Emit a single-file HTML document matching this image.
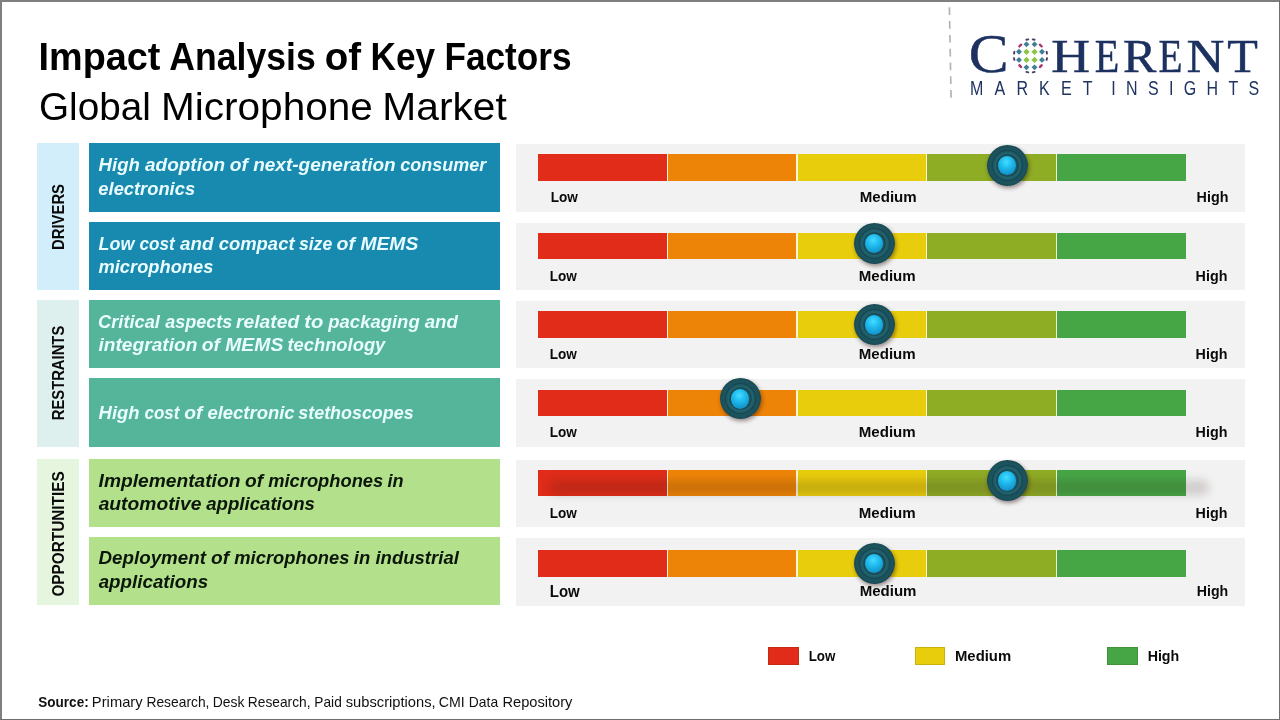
<!DOCTYPE html>
<html lang="en"><head><meta charset="utf-8"><title>Impact Analysis of Key Factors - Global Microphone Market</title>
<style>
html,body{margin:0;padding:0;background:#fff}
#page{position:relative;width:1280px;height:720px;overflow:hidden;background:#fff;font-family:"Liberation Sans",sans-serif}
.ln{margin:0;padding:0;font-size:16px;font-weight:400;line-height:1}
.tx{position:absolute;white-space:nowrap;line-height:1;transform-origin:0 50%;font-family:"Liberation Sans",sans-serif;font-weight:400;font-style:normal}
.h1{font-weight:700;color:#000}
.h2{color:#000}
.rl{font-weight:700;font-style:italic;color:#e9fcff}
.rd{font-weight:700;font-style:italic;color:#0b160b}
.lb{font-weight:700;color:#0a0a0a}
.sr{color:#111}
.lg{font-family:"Liberation Serif",serif;color:#1c3160;-webkit-text-stroke:.45px #1c3160}
.lm{color:#1f3361;transform:scaleX(.82)}
.ct{position:absolute;white-space:nowrap;line-height:1;font-size:16.6px;font-weight:700;color:#0a0a0a}
.bx{position:absolute}
.seg{position:absolute;top:0;height:100%}
.knob{position:absolute;width:41px;height:41px;margin:-20.5px 0 0 -20.5px;border-radius:50%;
 background:radial-gradient(circle closest-side at 50% 50%,#1f5a64 0,#1d5660 46%,#17464f 52%,#226470 58%,#1e5a65 68%,#164550 73%,#1c545e 79%,#1b515b 92%,#17464f 100%);
 box-shadow:1px 2px 4px rgba(40,0,0,.45)}
.knob i{position:absolute;left:50%;top:50%;width:18px;height:19.5px;margin:-9.5px 0 0 -9.2px;border-radius:50%;
 background:radial-gradient(circle at 46% 32%,#45dcff 0,#22bff1 32%,#159cd3 68%,#0e78ab 100%)}
</style></head><body><div id="page">
<div class="bx" style="left:0;top:0;width:1280px;height:2px;background:#7f7f7f"></div>
<div class="bx" style="left:0;top:0;width:2px;height:720px;background:#7f7f7f"></div>
<div class="bx" style="left:1279px;top:0;width:1px;height:720px;background:#6e6e6e"></div>
<div class="bx" style="left:0;top:719px;width:1280px;height:1px;background:#6e6e6e"></div>
<div class="bx" style="left:37px;top:143px;width:42px;height:147px;background:#d2eefa"></div>
<div class="bx" style="left:37px;top:300px;width:42px;height:147px;background:#ddf0ee"></div>
<div class="bx" style="left:37px;top:459px;width:42px;height:146px;background:#e6f6de"></div>
<div class="bx" style="left:89px;top:143px;width:411px;height:68.8px;background:#198aaf"></div>
<div class="bx" style="left:89px;top:222px;width:411px;height:67.8px;background:#198aaf"></div>
<div class="bx" style="left:89px;top:300px;width:411px;height:68px;background:#55b59b"></div>
<div class="bx" style="left:89px;top:378px;width:411px;height:69px;background:#55b59b"></div>
<div class="bx" style="left:89px;top:459px;width:411px;height:68px;background:#b3e08a"></div>
<div class="bx" style="left:89px;top:537px;width:411px;height:68px;background:#b3e08a"></div>
<div class="bx" style="left:516px;top:144.2px;width:729px;height:67.4px;background:#f2f2f2"></div>
<div class="bx" style="left:538px;top:154px;width:648.2px;height:26.7px;background:#fbf6d6">
<div class="seg" style="left:0px;width:128.75px;background:#e02c19"></div>
<div class="seg" style="left:130px;width:127.75px;background:#ee8407"></div>
<div class="seg" style="left:260px;width:127.75px;background:#e8cd0d"></div>
<div class="seg" style="left:389px;width:129.2px;background:#8fac25"></div>
<div class="seg" style="left:519.3px;width:128.9px;background:#46a646"></div>
</div>
<div class="bx" style="left:516px;top:223.1px;width:729px;height:66.9px;background:#f2f2f2"></div>
<div class="bx" style="left:538px;top:232.8px;width:648.2px;height:26.0px;background:#fbf6d6">
<div class="seg" style="left:0px;width:128.75px;background:#e02c19"></div>
<div class="seg" style="left:130px;width:127.75px;background:#ee8407"></div>
<div class="seg" style="left:260px;width:127.75px;background:#e8cd0d"></div>
<div class="seg" style="left:389px;width:129.2px;background:#8fac25"></div>
<div class="seg" style="left:519.3px;width:128.9px;background:#46a646"></div>
</div>
<div class="bx" style="left:516px;top:300.8px;width:729px;height:67.6px;background:#f2f2f2"></div>
<div class="bx" style="left:538px;top:311px;width:648.2px;height:26.8px;background:#fbf6d6">
<div class="seg" style="left:0px;width:128.75px;background:#e02c19"></div>
<div class="seg" style="left:130px;width:127.75px;background:#ee8407"></div>
<div class="seg" style="left:260px;width:127.75px;background:#e8cd0d"></div>
<div class="seg" style="left:389px;width:129.2px;background:#8fac25"></div>
<div class="seg" style="left:519.3px;width:128.9px;background:#46a646"></div>
</div>
<div class="bx" style="left:516px;top:379px;width:729px;height:67.6px;background:#f2f2f2"></div>
<div class="bx" style="left:538px;top:390px;width:648.2px;height:25.6px;background:#fbf6d6">
<div class="seg" style="left:0px;width:128.75px;background:#e02c19"></div>
<div class="seg" style="left:130px;width:127.75px;background:#ee8407"></div>
<div class="seg" style="left:260px;width:127.75px;background:#e8cd0d"></div>
<div class="seg" style="left:389px;width:129.2px;background:#8fac25"></div>
<div class="seg" style="left:519.3px;width:128.9px;background:#46a646"></div>
</div>
<div class="bx" style="left:516px;top:460px;width:729px;height:66.7px;background:#f2f2f2"></div>
<div class="bx" style="left:538px;top:470px;width:648.2px;height:25.9px;background:#fbf6d6">
<div class="seg" style="left:0px;width:128.75px;background:#e02c19"></div>
<div class="seg" style="left:130px;width:127.75px;background:#ee8407"></div>
<div class="seg" style="left:260px;width:127.75px;background:#e8cd0d"></div>
<div class="seg" style="left:389px;width:129.2px;background:#8fac25"></div>
<div class="seg" style="left:519.3px;width:128.9px;background:#46a646"></div>
</div>
<div class="bx" style="left:549px;top:479.5px;width:660px;height:15px;background:rgba(45,25,15,.17);filter:blur(4px);border-radius:7px"></div>
<div class="bx" style="left:516px;top:538px;width:729px;height:67.8px;background:#f2f2f2"></div>
<div class="bx" style="left:538px;top:550px;width:648.2px;height:26.7px;background:#fbf6d6">
<div class="seg" style="left:0px;width:128.75px;background:#e02c19"></div>
<div class="seg" style="left:130px;width:127.75px;background:#ee8407"></div>
<div class="seg" style="left:260px;width:127.75px;background:#e8cd0d"></div>
<div class="seg" style="left:389px;width:129.2px;background:#8fac25"></div>
<div class="seg" style="left:519.3px;width:128.9px;background:#46a646"></div>
</div>
<div class="knob" style="left:1007.1px;top:165.2px"><i></i></div>
<div class="knob" style="left:874.4px;top:243px"><i></i></div>
<div class="knob" style="left:874.4px;top:324.5px"><i></i></div>
<div class="knob" style="left:740.5px;top:398.7px"><i></i></div>
<div class="knob" style="left:1007.2px;top:480.5px"><i></i></div>
<div class="knob" style="left:874.4px;top:563.4px"><i></i></div>
<div class="bx" style="left:768px;top:647px;width:30.8px;height:17.7px;background:#e02c19;box-shadow:inset 0 0 0 1px rgba(60,30,0,.16)"></div>
<div class="bx" style="left:914.6px;top:647px;width:30.8px;height:17.7px;background:#e8cd0d;box-shadow:inset 0 0 0 1px rgba(60,30,0,.16)"></div>
<div class="bx" style="left:1107.2px;top:647px;width:30.8px;height:17.7px;background:#46a646;box-shadow:inset 0 0 0 1px rgba(60,30,0,.16)"></div>
<svg class="bx" style="left:940px;top:0" width="20" height="110" viewBox="0 0 20 110"><line x1="9.4" y1="7.3" x2="11.1" y2="99.4" stroke="#b4b4b4" stroke-width="1.7" stroke-dasharray="7.7 6.1"/></svg>
<svg class="bx" style="left:1005px;top:30px" width="52" height="52" viewBox="0 0 52 52" aria-label="Coherent Market Insights globe"><path d="M21.45 18.65L24.60 21.80L21.45 24.95L18.30 21.80Z" fill="#8cc544"/><path d="M21.45 26.75L24.60 29.90L21.45 33.05L18.30 29.90Z" fill="#8cc544"/><path d="M29.55 18.65L32.70 21.80L29.55 24.95L26.40 21.80Z" fill="#8cc544"/><path d="M29.55 26.75L32.70 29.90L29.55 33.05L26.40 29.90Z" fill="#8cc544"/><path d="M21.45 11.40L24.40 14.35L21.45 17.30L18.50 14.35Z" fill="#3f7f97"/><path d="M21.45 34.40L24.40 37.35L21.45 40.30L18.50 37.35Z" fill="#3f7f97"/><path d="M14.00 18.85L16.95 21.80L14.00 24.75L11.05 21.80Z" fill="#3f7f97"/><path d="M37.00 18.85L39.95 21.80L37.00 24.75L34.05 21.80Z" fill="#3f7f97"/><path d="M29.55 11.40L32.50 14.35L29.55 17.30L26.60 14.35Z" fill="#3f7f97"/><path d="M29.55 34.40L32.50 37.35L29.55 40.30L26.60 37.35Z" fill="#3f7f97"/><path d="M14.00 26.95L16.95 29.90L14.00 32.85L11.05 29.90Z" fill="#3f7f97"/><path d="M37.00 26.95L39.95 29.90L37.00 32.85L34.05 29.90Z" fill="#3f7f97"/><rect x="-2.30" y="-1.15" width="4.60" height="2.30" rx="0.92" fill="#a8336b" transform="translate(15.20 15.55) rotate(-45.0)"/><rect x="-2.30" y="-1.15" width="4.60" height="2.30" rx="0.92" fill="#a8336b" transform="translate(15.20 36.15) rotate(45.0)"/><rect x="-2.30" y="-1.15" width="4.60" height="2.30" rx="0.92" fill="#a8336b" transform="translate(35.80 15.55) rotate(45.0)"/><rect x="-2.30" y="-1.15" width="4.60" height="2.30" rx="0.92" fill="#a8336b" transform="translate(35.80 36.15) rotate(-45.0)"/><rect x="-1.85" y="-0.95" width="3.70" height="1.90" rx="0.76" fill="#4a3e64" transform="translate(41.80 22.68) rotate(79.0)"/><rect x="-1.85" y="-0.95" width="3.70" height="1.90" rx="0.76" fill="#4a3e64" transform="translate(41.80 29.02) rotate(101.0)"/><rect x="-1.85" y="-0.95" width="3.70" height="1.90" rx="0.76" fill="#4a3e64" transform="translate(28.67 42.15) rotate(169.0)"/><rect x="-1.85" y="-0.95" width="3.70" height="1.90" rx="0.76" fill="#4a3e64" transform="translate(22.33 42.15) rotate(191.0)"/><rect x="-1.85" y="-0.95" width="3.70" height="1.90" rx="0.76" fill="#4a3e64" transform="translate(9.20 29.02) rotate(259.0)"/><rect x="-1.85" y="-0.95" width="3.70" height="1.90" rx="0.76" fill="#4a3e64" transform="translate(9.20 22.68) rotate(281.0)"/><rect x="-1.85" y="-0.95" width="3.70" height="1.90" rx="0.76" fill="#4a3e64" transform="translate(22.33 9.55) rotate(349.0)"/><rect x="-1.85" y="-0.95" width="3.70" height="1.90" rx="0.76" fill="#4a3e64" transform="translate(28.67 9.55) rotate(371.0)"/></svg>
<div class="ct" id="c1" style="left:58.62px;top:216.56px;transform:translate(-50%,-50%) rotate(-90deg) scaleX(0.8958)">DRIVERS</div>
<div class="ct" id="c2" style="left:58.62px;top:373.01px;transform:translate(-50%,-50%) rotate(-90deg) scaleX(0.8919)">RESTRAINTS</div>
<div class="ct" id="c3" style="left:58.62px;top:533.67px;transform:translate(-50%,-50%) rotate(-90deg) scaleX(0.9241)">OPPORTUNITIES</div>
<h1 class="ln"><span class="tx h1" id="t1_0" style="left:38px;top:38px;font-size:38.48px;transform:translateX(0.52px) scaleX(0.9834);">Impact</span> <span class="tx h1" id="t1_1" style="left:169px;top:38px;font-size:38.48px;transform:translateX(0.35px) scaleX(0.9248);">Analysis</span> <span class="tx h1" id="t1_2" style="left:324px;top:38px;font-size:38.48px;transform:translateX(0.80px) scaleX(0.9995);">of</span> <span class="tx h1" id="t1_3" style="left:370px;top:38px;font-size:38.48px;transform:translateX(0.62px) scaleX(0.9149);">Key</span> <span class="tx h1" id="t1_4" style="left:444px;top:38px;font-size:38.48px;transform:translateX(0.40px) scaleX(0.9150);">Factors</span></h1>
<h2 class="ln"><span class="tx h2" id="t2_0" style="left:38px;top:88px;font-size:38.48px;transform:translateX(0.99px) scaleX(1.0054);">Global</span> <span class="tx h2" id="t2_1" style="left:160px;top:88px;font-size:38.48px;transform:translateX(1.00px) scaleX(1.0541);">Microphone</span> <span class="tx h2" id="t2_2" style="left:382px;top:88px;font-size:38.48px;transform:translateX(0.33px) scaleX(1.0588);">Market</span></h2>
<p class="ln"><span class="tx rl" id="r1a_0" style="left:98px;top:155px;font-size:19.26px;transform:translateX(0.60px) scaleX(0.9656);">High</span> <span class="tx rl" id="r1a_1" style="left:145px;top:155px;font-size:19.26px;transform:translateX(0.00px) scaleX(0.9856);">adoption</span> <span class="tx rl" id="r1a_2" style="left:229px;top:155px;font-size:19.26px;transform:translateX(0.76px) scaleX(0.9987);">of</span> <span class="tx rl" id="r1a_3" style="left:253px;top:155px;font-size:19.26px;transform:translateX(0.17px) scaleX(0.9871);">next-generation</span> <span class="tx rl" id="r1a_4" style="left:400px;top:155px;font-size:19.26px;transform:translateX(0.13px) scaleX(0.9367);">consumer</span></p>
<p class="ln"><span class="tx rl" id="r1b" style="left:98px;top:179px;font-size:19.26px;transform:translateX(0.37px) scaleX(0.9513);">electronics</span></p>
<p class="ln"><span class="tx rl" id="r2a_0" style="left:98px;top:234px;font-size:19.26px;transform:translateX(0.53px) scaleX(0.9303);">Low</span> <span class="tx rl" id="r2a_1" style="left:139px;top:234px;font-size:19.26px;transform:translateX(0.51px) scaleX(0.8900);">cost</span> <span class="tx rl" id="r2a_2" style="left:180px;top:234px;font-size:19.26px;transform:translateX(0.06px) scaleX(0.9768);">and</span> <span class="tx rl" id="r2a_3" style="left:218px;top:234px;font-size:19.26px;transform:translateX(0.65px) scaleX(0.9588);">compact</span> <span class="tx rl" id="r2a_4" style="left:298px;top:234px;font-size:19.26px;transform:translateX(0.89px) scaleX(0.9171);">size</span> <span class="tx rl" id="r2a_5" style="left:336px;top:234px;font-size:19.26px;transform:translateX(0.49px) scaleX(1.0131);">of</span> <span class="tx rl" id="r2a_6" style="left:360px;top:234px;font-size:19.26px;transform:translateX(0.42px) scaleX(1.0026);">MEMS</span></p>
<p class="ln"><span class="tx rl" id="r2b" style="left:98px;top:257px;font-size:19.26px;transform:translateX(0.52px) scaleX(0.9496);">microphones</span></p>
<p class="ln"><span class="tx rl" id="r3a_0" style="left:98px;top:312px;font-size:19.26px;transform:translateX(0.11px) scaleX(0.9467);">Critical</span> <span class="tx rl" id="r3a_1" style="left:165px;top:312px;font-size:19.26px;transform:translateX(0.17px) scaleX(0.9345);">aspects</span> <span class="tx rl" id="r3a_2" style="left:236px;top:312px;font-size:19.26px;transform:translateX(0.02px) scaleX(1.0022);">related</span> <span class="tx rl" id="r3a_3" style="left:304px;top:312px;font-size:19.26px;transform:translateX(0.31px) scaleX(1.0450);">to</span> <span class="tx rl" id="r3a_4" style="left:328px;top:312px;font-size:19.26px;transform:translateX(0.32px) scaleX(0.9595);">packaging</span> <span class="tx rl" id="r3a_5" style="left:424px;top:312px;font-size:19.26px;transform:translateX(0.63px) scaleX(0.9703);">and</span></p>
<p class="ln"><span class="tx rl" id="r3b_0" style="left:98px;top:335px;font-size:19.26px;transform:translateX(0.44px) scaleX(0.9956);">integration</span> <span class="tx rl" id="r3b_1" style="left:201px;top:335px;font-size:19.26px;transform:translateX(0.76px) scaleX(0.9987);">of</span> <span class="tx rl" id="r3b_2" style="left:225px;top:335px;font-size:19.26px;transform:translateX(0.20px) scaleX(1.0062);">MEMS</span> <span class="tx rl" id="r3b_3" style="left:287px;top:335px;font-size:19.26px;transform:translateX(0.41px) scaleX(0.9536);">technology</span></p>
<p class="ln"><span class="tx rl" id="r4a_0" style="left:98px;top:403px;font-size:19.26px;transform:translateX(0.59px) scaleX(0.9580);">High</span> <span class="tx rl" id="r4a_1" style="left:144px;top:403px;font-size:19.26px;transform:translateX(0.43px) scaleX(0.8842);">cost</span> <span class="tx rl" id="r4a_2" style="left:184px;top:403px;font-size:19.26px;transform:translateX(0.30px) scaleX(0.9988);">of</span> <span class="tx rl" id="r4a_3" style="left:207px;top:403px;font-size:19.26px;transform:translateX(0.39px) scaleX(0.9593);">electronic</span> <span class="tx rl" id="r4a_4" style="left:298px;top:403px;font-size:19.26px;transform:translateX(0.28px) scaleX(0.9294);">stethoscopes</span></p>
<p class="ln"><span class="tx rd" id="r5a_0" style="left:98px;top:471px;font-size:19.26px;transform:translateX(0.59px) scaleX(0.9969);">Implementation</span> <span class="tx rd" id="r5a_1" style="left:245px;top:471px;font-size:19.26px;transform:translateX(0.06px) scaleX(0.9941);">of</span> <span class="tx rd" id="r5a_2" style="left:268px;top:471px;font-size:19.26px;transform:translateX(0.24px) scaleX(0.9514);">microphones</span> <span class="tx rd" id="r5a_3" style="left:387px;top:471px;font-size:19.26px;transform:translateX(0.58px) scaleX(0.9403);">in</span></p>
<p class="ln"><span class="tx rd" id="r5b_0" style="left:98px;top:494px;font-size:19.26px;transform:translateX(0.65px) scaleX(1.0001);">automotive</span> <span class="tx rd" id="r5b_1" style="left:206px;top:494px;font-size:19.26px;transform:translateX(0.18px) scaleX(0.9678);">applications</span></p>
<p class="ln"><span class="tx rd" id="r6a_0" style="left:98px;top:548px;font-size:19.26px;transform:translateX(0.51px) scaleX(0.9753);">Deployment</span> <span class="tx rd" id="r6a_1" style="left:211px;top:548px;font-size:19.26px;transform:translateX(0.06px) scaleX(0.9941);">of</span> <span class="tx rd" id="r6a_2" style="left:234px;top:548px;font-size:19.26px;transform:translateX(0.31px) scaleX(0.9528);">microphones</span> <span class="tx rd" id="r6a_3" style="left:353px;top:548px;font-size:19.26px;transform:translateX(0.84px) scaleX(0.9592);">in</span> <span class="tx rd" id="r6a_4" style="left:375px;top:548px;font-size:19.26px;transform:translateX(0.41px) scaleX(0.9631);">industrial</span></p>
<p class="ln"><span class="tx rd" id="r6b" style="left:98px;top:572px;font-size:19.26px;transform:translateX(0.69px) scaleX(0.9742);">applications</span></p>
<div class="ln"><span class="tx lb" id="g1l" style="left:550px;top:190px;font-size:14.4px;transform:translateX(0.71px) scaleX(0.9419);">Low</span></div>
<div class="ln"><span class="tx lb" id="g1m" style="left:859px;top:190px;font-size:14.4px;transform:translateX(0.76px) scaleX(1.0465);">Medium</span></div>
<div class="ln"><span class="tx lb" id="g1h" style="left:1196px;top:190px;font-size:14.4px;transform:translateX(0.60px) scaleX(0.9940);">High</span></div>
<div class="ln"><span class="tx lb" id="g2l" style="left:549px;top:269px;font-size:14.4px;transform:translateX(0.71px) scaleX(0.9419);">Low</span></div>
<div class="ln"><span class="tx lb" id="g2m" style="left:858px;top:269px;font-size:14.4px;transform:translateX(0.76px) scaleX(1.0465);">Medium</span></div>
<div class="ln"><span class="tx lb" id="g2h" style="left:1195px;top:269px;font-size:14.4px;transform:translateX(0.60px) scaleX(0.9940);">High</span></div>
<div class="ln"><span class="tx lb" id="g3l" style="left:549px;top:347px;font-size:14.4px;transform:translateX(0.71px) scaleX(0.9419);">Low</span></div>
<div class="ln"><span class="tx lb" id="g3m" style="left:858px;top:347px;font-size:14.4px;transform:translateX(0.76px) scaleX(1.0465);">Medium</span></div>
<div class="ln"><span class="tx lb" id="g3h" style="left:1195px;top:347px;font-size:14.4px;transform:translateX(0.60px) scaleX(0.9940);">High</span></div>
<div class="ln"><span class="tx lb" id="g4l" style="left:549px;top:425px;font-size:14.4px;transform:translateX(0.71px) scaleX(0.9419);">Low</span></div>
<div class="ln"><span class="tx lb" id="g4m" style="left:858px;top:425px;font-size:14.4px;transform:translateX(0.76px) scaleX(1.0465);">Medium</span></div>
<div class="ln"><span class="tx lb" id="g4h" style="left:1195px;top:425px;font-size:14.4px;transform:translateX(0.60px) scaleX(0.9940);">High</span></div>
<div class="ln"><span class="tx lb" id="g5l" style="left:549px;top:506px;font-size:14.4px;transform:translateX(0.71px) scaleX(0.9419);">Low</span></div>
<div class="ln"><span class="tx lb" id="g5m" style="left:858px;top:506px;font-size:14.4px;transform:translateX(0.76px) scaleX(1.0465);">Medium</span></div>
<div class="ln"><span class="tx lb" id="g5h" style="left:1195px;top:506px;font-size:14.4px;transform:translateX(0.60px) scaleX(0.9940);">High</span></div>
<div class="ln"><span class="tx lb" id="g6l" style="left:549px;top:583px;font-size:16.2px;transform:translateX(0.74px) scaleX(0.9273);">Low</span></div>
<div class="ln"><span class="tx lb" id="g6m" style="left:859px;top:584px;font-size:14.4px;transform:translateX(0.65px) scaleX(1.0447);">Medium</span></div>
<div class="ln"><span class="tx lb" id="g6h" style="left:1196px;top:584px;font-size:14.4px;transform:translateX(0.78px) scaleX(0.9835);">High</span></div>
<div class="ln"><span class="tx lb" id="lgl" style="left:808px;top:649px;font-size:14.4px;transform:translateX(0.67px) scaleX(0.9279);">Low</span></div>
<div class="ln"><span class="tx lb" id="lgm" style="left:954px;top:649px;font-size:14.4px;transform:translateX(0.97px) scaleX(1.0335);">Medium</span></div>
<div class="ln"><span class="tx lb" id="lgh" style="left:1147px;top:649px;font-size:14.4px;transform:translateX(0.64px) scaleX(0.9883);">High</span></div>
<p class="ln"><span class="tx sr" id="src_0" style="left:38px;top:695px;font-size:14.4px;transform:translateX(0.29px) scaleX(0.9406);font-weight:700">Source:</span> <span class="tx sr" id="src_1" style="left:91px;top:695px;font-size:14.4px;transform:translateX(0.87px) scaleX(1.0239);">Primary</span> <span class="tx sr" id="src_2" style="left:146px;top:695px;font-size:14.4px;transform:translateX(0.44px) scaleX(0.9609);">Research,</span> <span class="tx sr" id="src_3" style="left:212px;top:695px;font-size:14.4px;transform:translateX(0.77px) scaleX(0.9654);">Desk</span> <span class="tx sr" id="src_4" style="left:247px;top:695px;font-size:14.4px;transform:translateX(0.84px) scaleX(0.9558);">Research,</span> <span class="tx sr" id="src_5" style="left:314px;top:695px;font-size:14.4px;transform:translateX(0.37px) scaleX(0.9513);">Paid</span> <span class="tx sr" id="src_6" style="left:345px;top:695px;font-size:14.4px;transform:translateX(0.74px) scaleX(1.0218);">subscriptions,</span> <span class="tx sr" id="src_7" style="left:438px;top:695px;font-size:14.4px;transform:translateX(0.75px) scaleX(0.9827);">CMI</span> <span class="tx sr" id="src_8" style="left:468px;top:695px;font-size:14.4px;transform:translateX(0.81px) scaleX(0.9641);">Data</span> <span class="tx sr" id="src_9" style="left:502px;top:695px;font-size:14.4px;transform:translateX(0.46px) scaleX(1.0173);">Repository</span></p>
<div class="ln"><span class="tx lg" id="lgC" style="left:968px;top:26px;font-size:55.5px;transform:translateX(0.78px) scaleX(1.0751);">C</span></div>
<div class="ln"><span class="tx lg" id="lgH_0" style="left:1051px;top:34px;font-size:46.5px;transform:translateX(0.13px) scaleX(1.1541);">H</span><span class="tx lg" id="lgH_1" style="left:1094px;top:34px;font-size:46.5px;transform:translateX(0.86px) scaleX(0.8635);">E</span><span class="tx lg" id="lgH_2" style="left:1123px;top:34px;font-size:46.5px;transform:translateX(0.12px) scaleX(1.0746);">R</span><span class="tx lg" id="lgH_3" style="left:1158px;top:34px;font-size:46.5px;transform:translateX(0.47px) scaleX(0.8443);">E</span><span class="tx lg" id="lgH_4" style="left:1186px;top:34px;font-size:46.5px;transform:translateX(0.38px) scaleX(1.1276);">N</span><span class="tx lg" id="lgH_5" style="left:1227px;top:34px;font-size:46.5px;transform:translateX(0.25px) scaleX(1.0782);">T</span></div>
<div class="ln"><span class="tx lm" id="lgM1" style="left:970px;top:79px;font-size:19.5px;letter-spacing:13.602px;transform:translateX(0.10px) scaleX(.82);">MARKET</span></div>
<div class="ln"><span class="tx lm" id="lgM2" style="left:1111px;top:79px;font-size:19.5px;letter-spacing:12.612px;transform:translateX(0.30px) scaleX(.82);">INSIGHTS</span></div>
</div></body></html>
